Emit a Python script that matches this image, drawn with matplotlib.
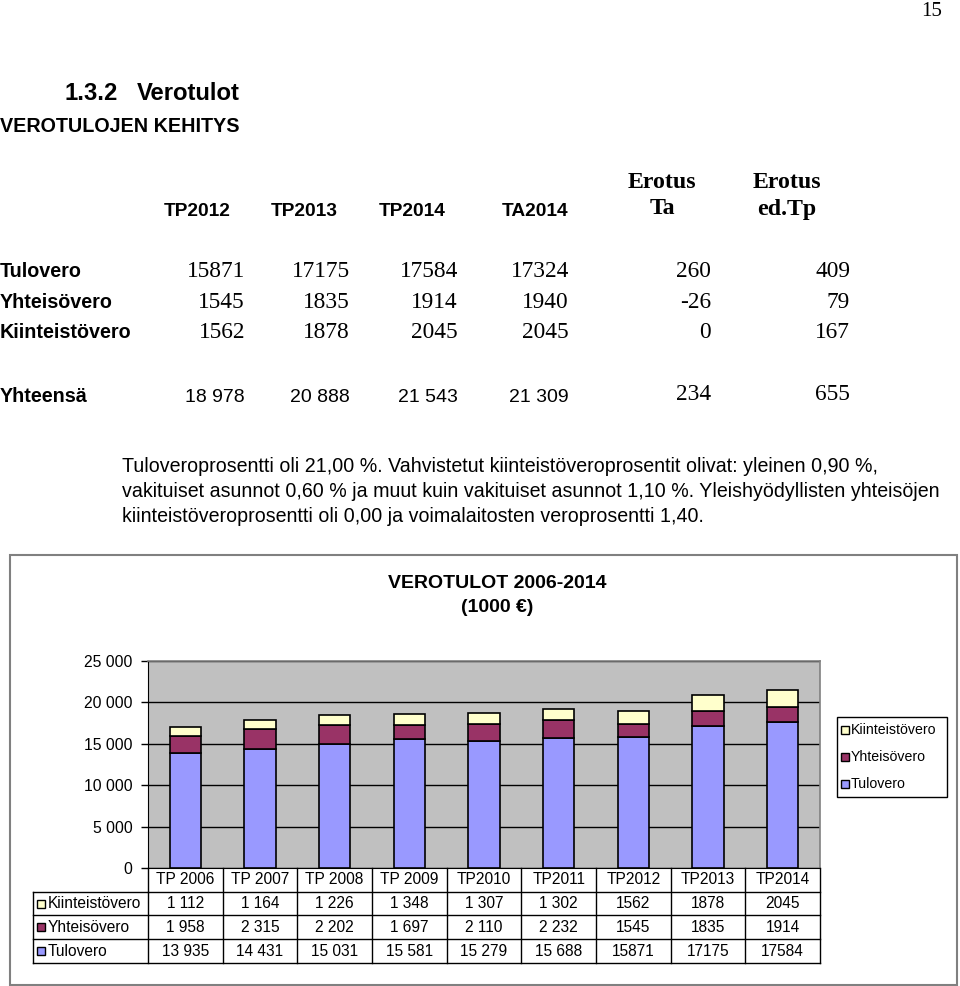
import matplotlib
matplotlib.use("Agg")
import matplotlib.pyplot as plt
from matplotlib.patches import Rectangle
from matplotlib.lines import Line2D
from matplotlib.ticker import FuncFormatter

# ---------------- data ----------------
years = ['TP 2006', 'TP 2007', 'TP 2008', 'TP 2009', 'TP2010', 'TP2011', 'TP2012', 'TP2013', 'TP2014']
tulovero = [13935, 14431, 15031, 15581, 15279, 15688, 15871, 17175, 17584]
yhteisovero = [1958, 2315, 2202, 1697, 2110, 2232, 1545, 1835, 1914]
kiinteistovero = [1112, 1164, 1226, 1348, 1307, 1302, 1562, 1878, 2045]
spaced_format = [True, True, True, True, True, True, False, False, False]
series_names = ['Kiinteistövero', 'Yhteisövero', 'Tulovero']
series_colors = ['#FFFFCC', '#993366', '#9999FF']
yticks = [0, 5000, 10000, 15000, 20000, 25000]

tbl_cols = ['TP2012', 'TP2013', 'TP2014', 'TA2014']
tbl_rows = ['Tulovero', 'Yhteisövero', 'Kiinteistövero']
tp2012 = [15871, 1545, 1562]
tp2013 = [17175, 1835, 1878]
tp2014 = [17584, 1914, 2045]
ta2014 = [17324, 1940, 2045]
erotus_ta = [260, -26, 0]
erotus_edtp = [409, 79, 167]
totals = ['18 978', '20 888', '21 543', '21 309']
total_diffs = ['234', '655']

paragraph = [
    "Tuloveroprosentti oli 21,00 %. Vahvistetut kiinteistöveroprosentit olivat: yleinen 0,90 %,",
    "vakituiset asunnot 0,60 % ja muut kuin vakituiset asunnot 1,10 %. Yleishyödyllisten yhteisöjen",
    "kiinteistöveroprosentti oli 0,00 ja voimalaitosten veroprosentti 1,40.",
]

# ---------------- figure ----------------
W, H = 960, 986
fig = plt.figure(figsize=(W / 100, H / 100), dpi=100)
fig.patch.set_facecolor('white')

SANS = ['Liberation Sans', 'DejaVu Sans']
NARROW = ['Liberation Sans Narrow', 'Liberation Sans', 'DejaVu Sans']
SERIF = ['Liberation Serif', 'DejaVu Serif']


def fx(x):
    return x / W


def fy(y):
    return 1 - y / H


def txt(x, y, s, **kw):
    return fig.text(fx(x), fy(y), s, **kw)


# page number
txt(942, 12, '15', family=SERIF, fontsize=15, ha='right', va='center')

# headings
txt(65, 93, '1.3.2', family=SANS, fontsize=17.2, fontweight='bold', va='center')
txt(137, 93, 'Verotulot', family=SANS, fontsize=17.2, fontweight='bold', va='center')
txt(0, 126, 'VEROTULOJEN KEHITYS', family=SANS, fontsize=14.2, fontweight='bold', va='center')

# top table
col_right = [231, 338, 446, 568]
for c, lbl in zip(col_right, tbl_cols):
    txt(c, 211, lbl, family=NARROW, fontsize=13.8, fontweight='bold', ha='right', va='center')
for xc, l1, l2 in [(662, 'Erotus', 'Ta'), (787, 'Erotus', 'ed.Tp')]:
    txt(xc, 183, l1, family=SERIF, fontsize=17.2, fontweight='bold', ha='center', va='center')
    txt(xc, 209, l2, family=SERIF, fontsize=17.2, fontweight='bold', ha='center', va='center')

row_y = [271, 302, 333]
num_right = [245, 350, 458, 569, 711, 850]
columns = [tp2012, tp2013, tp2014, ta2014, erotus_ta, erotus_edtp]
for i, (ry, name) in enumerate(zip(row_y, tbl_rows)):
    txt(0, ry, name, family=NARROW, fontsize=14.2, fontweight='bold', va='center')
    for xr, col in zip(num_right, columns):
        txt(xr, ry, str(col[i]), family=SERIF, fontsize=16.8, ha='right', va='center')

txt(0, 397, 'Yhteensä', family=NARROW, fontsize=14.2, fontweight='bold', va='center')
for xr, s in zip(num_right[:4], totals):
    txt(xr, 398, s, family=NARROW, fontsize=14, ha='right', va='center')
for xr, s in zip(num_right[4:], total_diffs):
    txt(xr, 395, s, family=SERIF, fontsize=16.8, ha='right', va='center')

# paragraph
for k, line in enumerate(paragraph):
    txt(122, 467 + k * 24.8, line, family=SANS, fontsize=14.1, va='center')

# chart frame
fig.patches.append(Rectangle((fx(10), fy(985)), fx(947), (985 - 555) / H,
                             transform=fig.transFigure, fill=False,
                             edgecolor='#808080', linewidth=1.5))

# chart title
txt(497, 584, 'VEROTULOT 2006-2014', family=SANS, fontsize=14, fontweight='bold', ha='center', va='center')
txt(497, 607, '(1000 €)', family=SANS, fontsize=14, fontweight='bold', ha='center', va='center')

# plot area
L, R, T, B = 148, 820, 661, 868
ax = fig.add_axes([fx(L), fy(B), (R - L) / W, (B - T) / H])
ax.set_facecolor('#C0C0C0')
n = len(years)
xs = list(range(n))
bw = 0.42
b2 = [a + b for a, b in zip(tulovero, yhteisovero)]
ax.bar(xs, tulovero, bw, color=series_colors[2], edgecolor='black', linewidth=1.2, zorder=3)
ax.bar(xs, yhteisovero, bw, bottom=tulovero, color=series_colors[1], edgecolor='black', linewidth=1.2, zorder=3)
ax.bar(xs, kiinteistovero, bw, bottom=b2, color=series_colors[0], edgecolor='black', linewidth=1.2, zorder=3)
ax.set_xlim(-0.5, n - 0.5)
ax.set_ylim(0, 25000)
ax.set_yticks(yticks)
ax.yaxis.set_major_formatter(FuncFormatter(lambda v, p: f"{int(v):,}".replace(',', ' ')))
ax.tick_params(axis='y', direction='out', length=5, width=1, pad=6, labelsize=11.3)
for lab in ax.get_yticklabels():
    lab.set_family(NARROW)
ax.set_xticks([])
ax.grid(axis='y', color='black', linewidth=1, zorder=1)
for s in ['top', 'right']:
    ax.spines[s].set_color('#808080')
    ax.spines[s].set_linewidth(1.2)
ax.spines['left'].set_color('black')
ax.spines['bottom'].set_color('black')

# data table (figure pixel coords)
cw = (R - L) / n
tb_top = 868
row_tops = [892, 915, 939, 963]
tcolor = 'black'
fig.add_artist(Line2D([fx(L), fx(R)], [fy(892), fy(892)], color=tcolor, lw=1, transform=fig.transFigure))
for yy in row_tops[1:]:
    fig.add_artist(Line2D([fx(33), fx(R)], [fy(yy), fy(yy)], color=tcolor, lw=1, transform=fig.transFigure))
fig.add_artist(Line2D([fx(33), fx(L)], [fy(892), fy(892)], color=tcolor, lw=1, transform=fig.transFigure))
for i in range(n + 1):
    xx = L + i * cw
    fig.add_artist(Line2D([fx(xx), fx(xx)], [fy(tb_top), fy(963)], color=tcolor, lw=1, transform=fig.transFigure))
fig.add_artist(Line2D([fx(33), fx(33)], [fy(892), fy(963)], color=tcolor, lw=1, transform=fig.transFigure))
for i, yr in enumerate(years):
    txt(L + (i + 0.5) * cw, 880, yr, family=NARROW, fontsize=11.2, ha='center', va='center')
rows_data = [kiinteistovero, yhteisovero, tulovero]
for r, (name, col, vals) in enumerate(zip(series_names, series_colors, rows_data)):
    yc = (row_tops[r] + row_tops[r + 1]) / 2
    fig.patches.append(Rectangle((fx(37), fy(yc + 4)), 8 / W, 8 / H, transform=fig.transFigure,
                                 facecolor=col, edgecolor='black', linewidth=1))
    txt(48, yc, name, family=NARROW, fontsize=11.2, va='center')
    for i, v in enumerate(vals):
        s = f"{v:,}".replace(',', ' ') if spaced_format[i] else str(v)
        txt(L + (i + 0.5) * cw, yc, s, family=NARROW, fontsize=11.2, ha='center', va='center')

# legend
fig.patches.append(Rectangle((fx(837), fy(797)), 110 / W, 80 / H, transform=fig.transFigure,
                             facecolor='white', edgecolor='black', linewidth=1))
for k, (name, col) in enumerate(zip(series_names, series_colors)):
    yc = 730 + k * 27
    fig.patches.append(Rectangle((fx(841), fy(yc + 4)), 8 / W, 8 / H, transform=fig.transFigure,
                                 facecolor=col, edgecolor='black', linewidth=1))
    txt(851, yc, name, family=NARROW, fontsize=10.2, va='center')

fig.savefig('out.png', dpi=100)
